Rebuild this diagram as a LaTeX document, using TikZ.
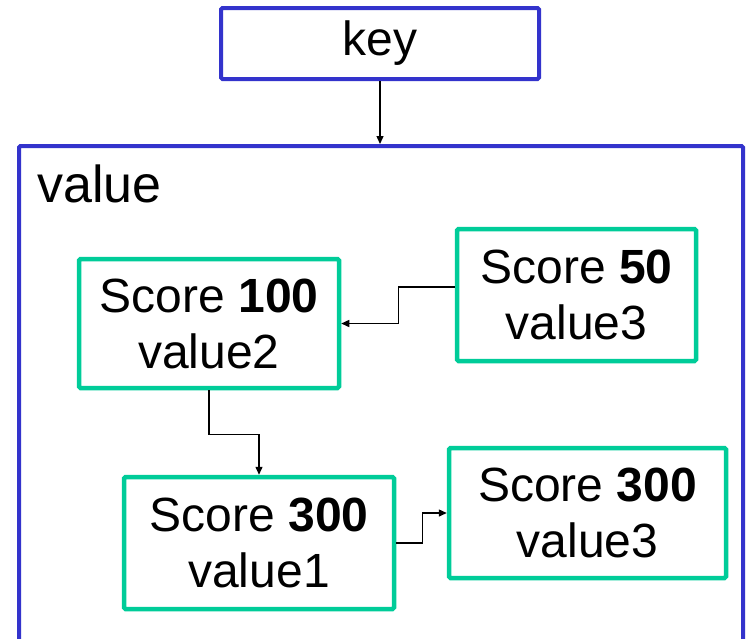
\documentclass[tikz,border=0pt]{standalone}
\usepackage{fontspec}
\setmainfont{Liberation Sans}
\usetikzlibrary{arrows.meta}
\definecolor{boxblue}{RGB}{51,51,204}
\definecolor{boxgreen}{RGB}{0,204,153}
\tikzset{
  bluebox/.style={draw=boxblue, line width=4pt, rounded corners=1.5pt, inner sep=0pt},
  greenbox/.style={draw=boxgreen, line width=4.5pt, rounded corners=1.5pt, inner sep=0pt, align=center,
    font=\fontsize{48}{56}\selectfont},
  arr/.style={line width=1.4pt, -{Triangle[length=8pt,width=7pt]}},
  big/.style={font=\fontsize{48}{56}\selectfont, inner sep=0pt}
}
\begin{document}
\begin{tikzpicture}[x=1pt,y=-1pt]
\useasboundingbox (0,0) rectangle (749,638);
\clip (0,0) rectangle (749,638);
\fill[white] (0,0) rectangle (749,638);
% key box
\node[bluebox, big, minimum width=318pt, minimum height=71pt] (key) at (380,43.5) {key};
% value container
\node[bluebox, minimum width=724pt, minimum height=560pt] (vb) at (381,426) {};
\node[big, font=\fontsize{52}{60}\selectfont, anchor=base west] (vlabel) at (37,202) {value};
% entries
\node[greenbox, minimum width=260pt, minimum height=129pt] (s100) at (209,323.5) {Score \textbf{100}\\value2};
\node[greenbox, minimum width=239pt, minimum height=132pt] (s50) at (576.5,295) {Score \textbf{50}\\value3};
\node[greenbox, minimum width=270pt, minimum height=132pt] (s300a) at (259,543) {Score \textbf{300}\\value1};
\node[greenbox, minimum width=277pt, minimum height=130pt] (s300b) at (587.5,513) {Score \textbf{300}\\value3};
% connectors
\draw[arr] (key.south) -- (key.south |- vb.north);
\draw[arr] ([yshift=8pt]s50.west) -- ++(-56pt,0) |- (s100.east);
\draw[arr] (s100.south) -- ++(0,-44pt) -| (s300a.north);
\draw[arr] (s300a.east) -- ++(26pt,0) |- (s300b.west);
\end{tikzpicture}
\end{document}
